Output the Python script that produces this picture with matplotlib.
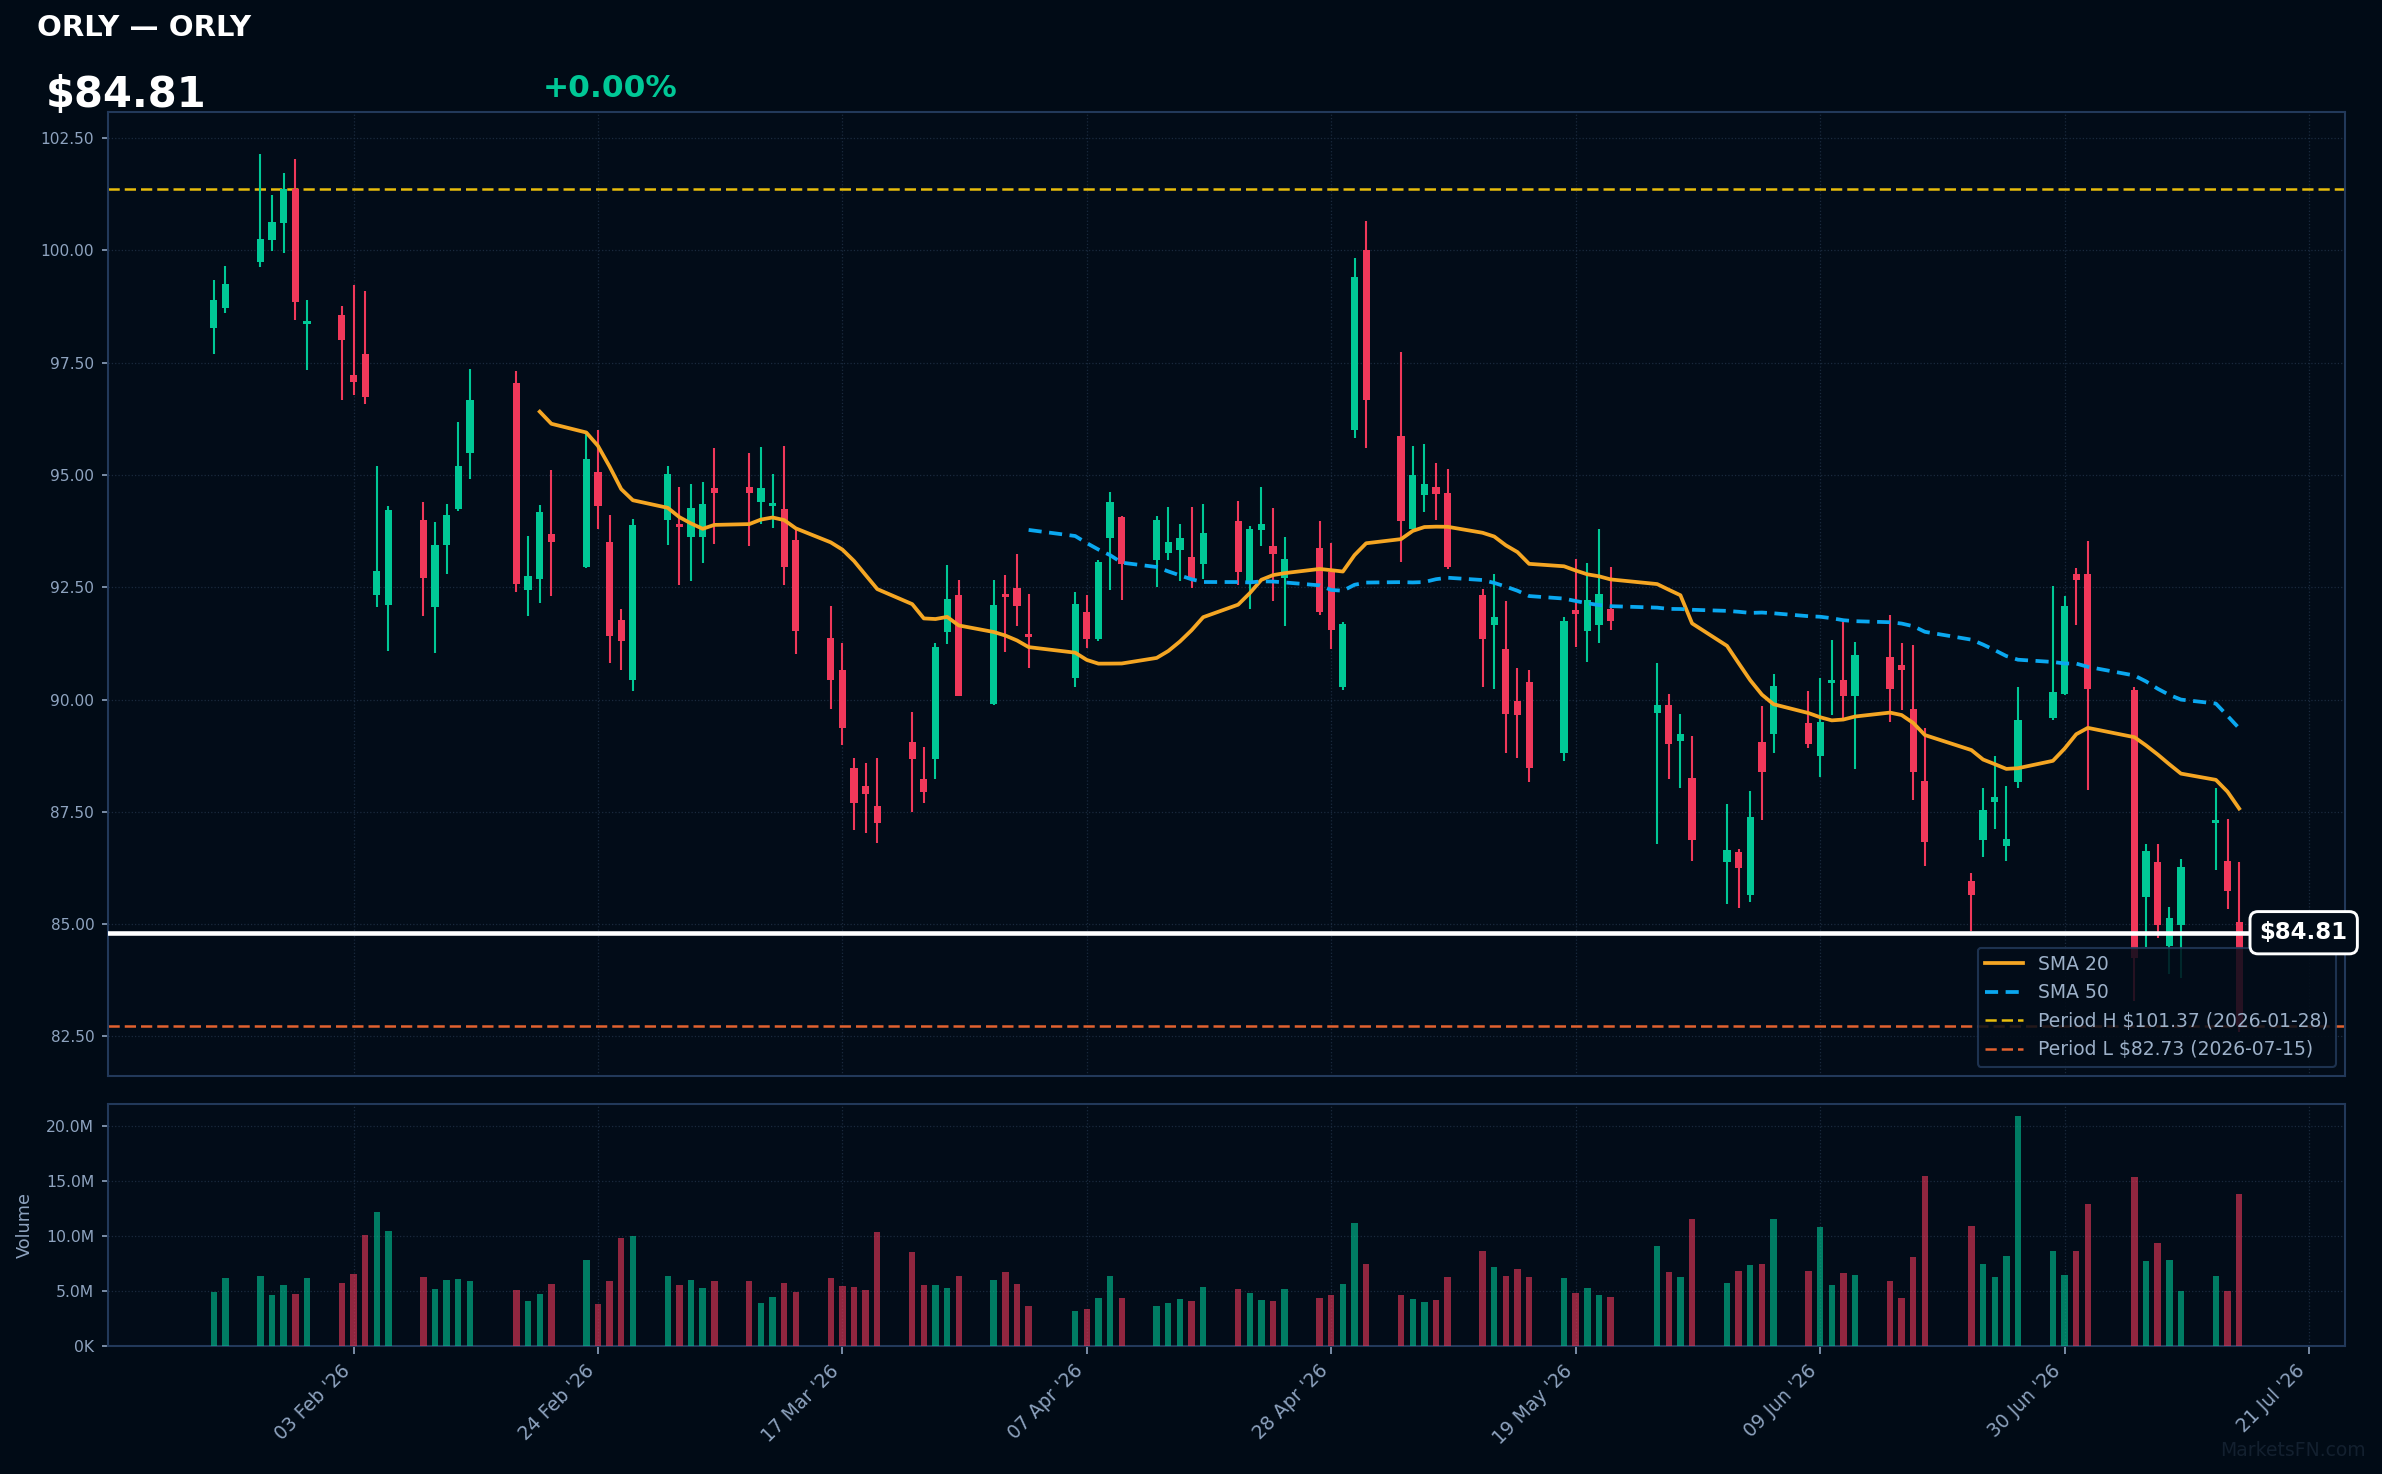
import numpy as np
import pandas as pd
import matplotlib
matplotlib.use("Agg")
import matplotlib.pyplot as plt
import matplotlib.dates as mdates
from matplotlib.ticker import FuncFormatter, FixedLocator

# ---------------- data ----------------
holidays = ['2026-02-16', '2026-04-03', '2026-05-25', '2026-06-19', '2026-07-03']
dates = [d for d in pd.bdate_range('2026-01-22', '2026-07-15') if d.strftime('%Y-%m-%d') not in holidays]

opens = [98.27, 98.71, 99.74, 100.23, 100.61, 101.37, 98.37, 98.56, 97.22, 97.69,
         92.33, 92.11, 94.00, 92.06, 93.45, 94.25, 95.48, 97.04, 92.43, 92.69,
         93.69, 92.96, 95.07, 93.51, 91.77, 90.44, 93.99, 93.91, 93.63, 93.61,
         94.72, 94.74, 94.39, 94.30, 94.25, 93.55, 91.38, 90.65, 88.48, 88.08,
         87.63, 89.06, 88.24, 88.67, 91.50, 92.32, 89.90, 92.34, 92.48, 91.47,
         90.48, 91.94, 91.35, 93.59, 94.06, 93.11, 93.27, 93.33, 93.18, 93.01,
         93.98, 92.60, 93.78, 93.42, 92.70, 93.38, 92.85, 90.28, 96.01, 100.00,
         95.87, 93.80, 94.55, 94.74, 94.59, 92.33, 91.65, 91.13, 89.97, 90.39,
         88.81, 91.99, 91.53, 91.67, 92.02, 89.71, 89.88, 89.08, 88.25, 86.38,
         86.61, 85.65, 89.05, 89.23, 89.47, 88.75, 90.36, 90.44, 90.07, 90.95,
         90.77, 89.80, 88.19, 85.97, 86.87, 87.73, 86.73, 88.16, 89.59, 90.13,
         92.80, 92.80, 90.21, 85.60, 86.39, 84.52, 84.98, 87.25, 86.41, 85.04]
highs = [99.34, 99.65, 102.15, 101.24, 101.73, 102.04, 98.89, 98.76, 99.23, 99.09,
         95.21, 94.32, 94.40, 93.96, 94.36, 96.19, 97.37, 97.31, 93.65, 94.34,
         95.12, 95.92, 96.01, 94.11, 92.02, 94.03, 95.19, 94.74, 94.81, 94.85,
         95.59, 95.50, 95.63, 95.03, 95.65, 93.85, 92.08, 91.25, 88.71, 88.59,
         88.71, 89.73, 88.95, 91.27, 92.99, 92.66, 92.66, 92.77, 93.24, 92.34,
         92.39, 92.32, 93.11, 94.63, 94.08, 94.09, 94.29, 93.91, 94.29, 94.36,
         94.43, 93.87, 94.74, 94.27, 93.62, 93.98, 93.49, 91.73, 99.83, 100.65,
         97.73, 95.64, 95.70, 95.26, 95.14, 92.47, 92.80, 92.19, 90.70, 90.66,
         91.84, 93.14, 93.04, 93.80, 92.95, 90.82, 90.12, 89.68, 89.18, 87.68,
         86.68, 87.96, 89.85, 90.58, 90.20, 90.49, 91.33, 91.73, 91.28, 91.88,
         91.26, 91.22, 89.36, 86.15, 88.03, 88.74, 88.07, 90.28, 92.53, 92.31,
         92.93, 93.53, 90.27, 86.79, 86.79, 85.39, 86.46, 88.04, 87.35, 86.38]
lows = [97.69, 98.60, 99.63, 99.99, 99.94, 98.44, 97.33, 96.66, 96.79, 96.59,
        92.06, 91.08, 91.86, 91.03, 92.80, 94.20, 94.90, 92.40, 91.85, 92.14,
        92.31, 92.94, 93.80, 90.82, 90.66, 90.19, 93.45, 92.54, 92.63, 93.05,
        93.47, 93.43, 93.90, 93.81, 92.54, 91.01, 89.78, 89.00, 87.10, 87.03,
        86.80, 87.49, 87.69, 88.24, 91.24, 90.07, 89.87, 91.06, 91.64, 90.70,
        90.28, 91.15, 91.30, 92.43, 92.22, 92.51, 93.10, 92.63, 92.49, 92.68,
        92.56, 92.02, 93.41, 92.19, 91.64, 91.88, 91.12, 90.21, 95.83, 95.61,
        93.07, 93.75, 94.17, 93.99, 92.90, 90.29, 90.24, 88.81, 88.70, 88.17,
        88.64, 91.16, 90.83, 91.27, 91.56, 86.78, 88.23, 88.04, 86.41, 85.46,
        85.36, 85.49, 87.31, 88.81, 88.92, 88.28, 89.65, 89.59, 88.46, 89.50,
        89.76, 87.77, 86.29, 84.85, 86.49, 87.11, 86.40, 88.03, 89.54, 90.10,
        91.66, 87.98, 83.30, 84.50, 84.70, 83.90, 83.80, 86.20, 85.33, 82.60]
closes = [98.89, 99.25, 100.25, 100.63, 101.37, 98.85, 98.40, 98.00, 97.08, 96.73,
          92.86, 94.23, 92.71, 93.45, 94.11, 95.21, 96.66, 92.58, 92.75, 94.18,
          93.50, 95.36, 94.32, 91.42, 91.31, 93.89, 95.02, 93.85, 94.27, 94.36,
          94.59, 94.59, 94.72, 94.38, 92.96, 91.52, 90.43, 89.36, 87.69, 87.89,
          87.26, 88.67, 87.95, 91.16, 92.25, 90.09, 92.10, 92.28, 92.08, 91.39,
          92.12, 91.35, 93.07, 94.40, 93.01, 94.00, 93.51, 93.60, 92.69, 93.71,
          92.83, 93.80, 93.91, 93.23, 93.13, 91.95, 91.55, 91.68, 99.40, 96.66,
          93.97, 95.00, 94.79, 94.57, 92.95, 91.34, 91.84, 89.69, 89.66, 88.48,
          91.75, 91.91, 92.22, 92.35, 91.74, 89.88, 89.02, 89.23, 86.87, 86.66,
          86.25, 87.39, 88.39, 90.31, 89.01, 89.49, 90.44, 90.07, 91.00, 90.23,
          90.65, 88.39, 86.84, 85.65, 87.54, 87.83, 86.90, 89.54, 90.16, 92.08,
          92.66, 90.23, 84.24, 86.64, 84.98, 85.13, 86.28, 87.29, 85.73, 82.73]
volumes_m = [4.92, 6.20, 6.38, 4.64, 5.56, 4.73, 6.20, 5.74, 6.56, 10.05,
             12.15, 10.41, 6.29, 5.19, 6.02, 6.11, 5.92, 5.10, 4.09, 4.73,
             5.65, 7.85, 3.82, 5.92, 9.77, 9.95, 6.38, 5.56, 6.02, 5.28,
             5.92, 5.92, 3.91, 4.46, 5.74, 4.92, 6.20, 5.47, 5.37, 5.10,
             10.32, 8.49, 5.56, 5.56, 5.28, 6.38, 6.02, 6.75, 5.65, 3.63,
             3.18, 3.36, 4.37, 6.38, 4.37, 3.63, 3.91, 4.27, 4.09, 5.37,
             5.19, 4.82, 4.18, 4.09, 5.19, 4.37, 4.64, 5.65, 11.15, 7.48,
             4.64, 4.27, 4.00, 4.18, 6.29, 8.67, 7.21, 6.38, 7.02, 6.29,
             6.20, 4.82, 5.28, 4.64, 4.46, 9.04, 6.75, 6.29, 11.51, 5.74,
             6.84, 7.39, 7.48, 11.51, 6.84, 10.78, 5.56, 6.66, 6.47, 5.92,
             4.37, 8.12, 15.45, 10.87, 7.48, 6.29, 8.21, 20.95, 8.67, 6.47,
             8.67, 12.89, 15.37, 7.76, 9.40, 7.85, 5.01, 6.38, 5.01, 13.80]

ticker = "ORLY"
last_price = 84.81
change_pct = 0.00
period_high, period_high_date = 101.37, "2026-01-28"
period_low, period_low_date = 82.73, "2026-07-15"
xtick_dates = ['2026-02-03', '2026-02-24', '2026-03-17', '2026-04-07', '2026-04-28',
               '2026-05-19', '2026-06-09', '2026-06-30', '2026-07-21']

# ---------------- style ----------------
BG = '#010b16'
AX_BG = '#020c18'
UP = '#00c896'
DOWN = '#f0385a'
SPINE = '#22395a'
GRID = '#1a2a3e'
TXT = '#8ea3bf'

o = np.array(opens); h = np.array(highs); l = np.array(lows); c = np.array(closes)
v = np.array(volumes_m) * 1e6
x = mdates.date2num(pd.to_datetime(dates))
up = c >= o
cols = np.where(up, UP, DOWN)
sma20 = pd.Series(c).rolling(20).mean().values
sma50 = pd.Series(c).rolling(50).mean().values

fig = plt.figure(figsize=(2382 / 150, 1474 / 150), dpi=150, facecolor=BG)
ax = fig.add_axes([0.0453, 0.270, 0.9392, 0.6537], facecolor=AX_BG)
axv = fig.add_axes([0.0453, 0.0871, 0.9392, 0.1637], facecolor=AX_BG, sharex=ax)

# candles
ax.vlines(x, l, h, colors=cols, linewidth=1.0, zorder=3)
body_b = np.minimum(o, c)
body_h = np.maximum(np.abs(c - o), 0.06)
ax.bar(x, body_h, bottom=body_b, width=0.62, color=cols, linewidth=0, zorder=4)

# SMAs
ax.plot(x, sma20, color='#f5a623', lw=1.8, zorder=5, label='SMA 20')
ax.plot(x, sma50, color='#0aa8f0', lw=1.8, ls=(0, (3.5, 2)), zorder=5, label='SMA 50')

# period lines
ax.axhline(period_high, color='#e8bd0c', lw=1.2, ls=(0, (4.5, 2)), zorder=2,
           label=f'Period H ${period_high:.2f} ({period_high_date})')
ax.axhline(period_low, color='#e2622f', lw=1.2, ls=(0, (4.5, 2)), zorder=2,
           label=f'Period L ${period_low:.2f} ({period_low_date})')

# last price line + label
ax.axhline(last_price, color='white', lw=2.2, zorder=6)
ax.annotate(f'${last_price:.2f}', xy=(0.9815, last_price), xycoords=('axes fraction', 'data'),
            ha='center', va='center', color='white', fontsize=11, fontweight='bold',
            annotation_clip=False, zorder=10,
            bbox=dict(boxstyle='round,pad=0.42,rounding_size=0.35', fc=AX_BG, ec='white', lw=1.4))

leg = ax.legend(loc='lower right', fontsize=9, frameon=True, facecolor=AX_BG,
                edgecolor=SPINE, framealpha=0.85, labelcolor='#9cb0c8', fancybox=True)
leg.set_zorder(8)

# volume
vcols = np.where(up, UP, DOWN)
axv.bar(x, v, width=0.55, color=vcols, alpha=0.6, linewidth=0, zorder=3)

# axes formatting
ax.set_xlim(x[0] - 9.1, x[-1] + 9.1)
ax.set_ylim(81.62, 103.07)
axv.set_ylim(0, 22.0e6)
ax.set_yticks(np.arange(82.5, 102.51, 2.5))
ax.yaxis.set_major_formatter(FuncFormatter(lambda val, p: f'{val:.2f}'))
axv.set_yticks([0, 5e6, 10e6, 15e6, 20e6])
axv.yaxis.set_major_formatter(FuncFormatter(
    lambda val, p: f'{val / 1e6:.1f}M' if val >= 1e6 else f'{val / 1e3:.0f}K'))

xt = mdates.date2num(pd.to_datetime(xtick_dates))
axv.xaxis.set_major_locator(FixedLocator(xt))
axv.xaxis.set_major_formatter(mdates.DateFormatter("%d %b '%y"))
plt.setp(ax.get_xticklabels(), visible=False)
ax.tick_params(axis='x', length=0)
for lab in axv.get_xticklabels():
    lab.set_rotation(45)
    lab.set_ha('right')

for a in (ax, axv):
    for s in a.spines.values():
        s.set_color(SPINE)
        s.set_linewidth(1.0)
    a.grid(True, color=GRID, lw=0.6, ls=':', zorder=0)
    a.set_axisbelow(True)
ax.tick_params(axis='y', colors=TXT, labelsize=7.4, length=3, color=TXT)
axv.tick_params(axis='y', colors=TXT, labelsize=7.5, length=3, color=TXT)
axv.tick_params(axis='x', colors=TXT, labelsize=9, length=4, color=TXT)
axv.set_ylabel('Volume', color=TXT, fontsize=8.5, labelpad=6)

# header
fig.text(0.0155, 0.9756, f'{ticker} — {ticker}', color='white', fontsize=14,
         fontweight='bold', ha='left', va='baseline')
fig.text(0.0190, 0.9272, f'${last_price:.2f}', color='white', fontsize=20,
         fontweight='bold', ha='left', va='baseline')
fig.text(0.2278, 0.934, f'+{change_pct:.2f}%', color=UP, fontsize=15,
         fontweight='bold', ha='left', va='baseline')
fig.text(0.993, 0.0124, 'MarketsFN.com', color='#13202f', fontsize=9,
         ha='right', va='baseline')

fig.savefig('out.png', dpi=150, facecolor=BG)
